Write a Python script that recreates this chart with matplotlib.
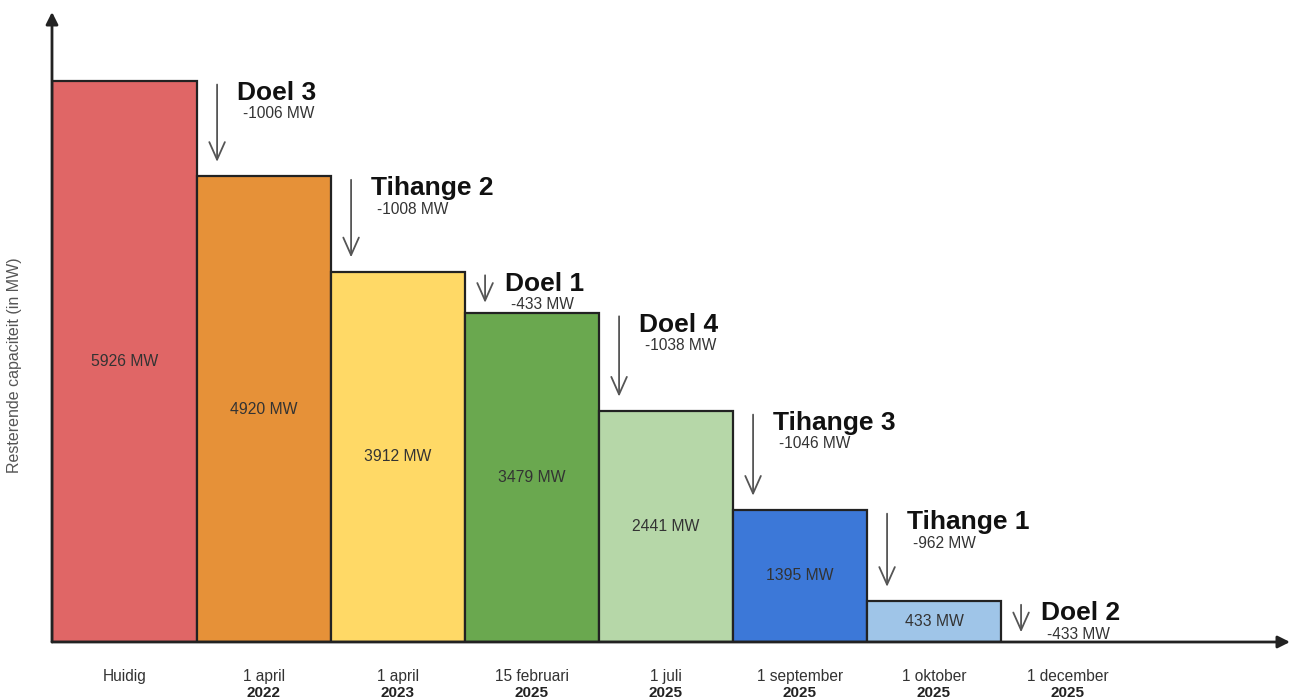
import numpy as np
import matplotlib
matplotlib.use("Agg")
import matplotlib.pyplot as plt

plt.rcParams["font.family"] = ["Liberation Sans", "DejaVu Sans"]

# data
dates = ["Huidig", "1 april", "1 april", "15 februari", "1 juli",
         "1 september", "1 oktober", "1 december"]
years = ["", "2022", "2023", "2025", "2025", "2025", "2025", "2025"]
capacity = [5926, 4920, 3912, 3479, 2441, 1395, 433, 0]
reactors = ["Doel 3", "Tihange 2", "Doel 1", "Doel 4", "Tihange 3", "Tihange 1", "Doel 2"]
colors = ["#e06666", "#e69138", "#ffd966", "#6aa84f", "#b6d7a8", "#3c78d8", "#9fc5e8", "#ffffff"]

n = len(capacity)
x_min = -0.082
x_max = 9.157
y_max = 6652

fig = plt.figure(figsize=(12.99, 7), dpi=100)
ax = fig.add_axes([52/1299, 58/700, 1238/1299, 630/700])
ax.set_xlim(x_min, x_max)
ax.set_ylim(0, y_max)
for s in ax.spines.values():
    s.set_visible(False)
ax.set_xticks([])
ax.set_yticks([])

left = np.arange(n, dtype=float)
width = np.ones(n)
left[0] = x_min
width[0] = 1 - x_min

for i in range(n):
    if capacity[i] <= 0:
        continue
    ax.bar(left[i], capacity[i], width=width[i], align='edge',
           color=colors[i], edgecolor='#222222', linewidth=1.6, zorder=2)
    ax.text(left[i] + width[i]/2, capacity[i]/2, "%d MW" % capacity[i],
            ha='center', va='center', fontsize=11.3, color='#333333', zorder=3)

# x labels
for i in range(n):
    xc = left[i] + width[i]/2
    ax.annotate(dates[i], xy=(xc, 0), xytext=(0, -25), textcoords='offset points',
                ha='center', va='center', fontsize=11.2, color='#333333',
                annotation_clip=False)
    if years[i]:
        ax.annotate(years[i], xy=(xc, 0), xytext=(0, -37), textcoords='offset points',
                    ha='center', va='center', fontsize=11, fontweight='bold',
                    color='#222222', annotation_clip=False)

# reactor closures
drops = -np.diff(capacity)
for k, name in enumerate(reactors):
    prev = capacity[k]
    nxt = capacity[k + 1]
    xa = k + 1 + 0.15
    y0 = prev - 40
    y1 = min(nxt + 150, y0 - 290)
    ax.annotate('', xy=(xa, y1), xytext=(xa, y0),
                arrowprops=dict(arrowstyle='->,head_length=0.9,head_width=0.4',
                                color='#555555', lw=1.3, shrinkA=0, shrinkB=0,
                                mutation_scale=14), zorder=4)
    ax.text(k + 1 + 0.3, prev - 130, name, ha='left', va='center',
            fontsize=19, fontweight='bold', color='#111111', zorder=4)
    ax.text(k + 1 + 0.34, prev - 350, "-%d MW" % drops[k], ha='left', va='center',
            fontsize=11.2, color='#333333', zorder=4)

# axis arrows
ax.annotate('', xy=(1, 0), xytext=(0, 0), xycoords='axes fraction',
            arrowprops=dict(arrowstyle='-|>', color='#222222', lw=2,
                            shrinkA=0, shrinkB=0, mutation_scale=18), zorder=5)
ax.annotate('', xy=(0, 1), xytext=(0, 0), xycoords='axes fraction',
            arrowprops=dict(arrowstyle='-|>', color='#222222', lw=2,
                            shrinkA=0, shrinkB=0, mutation_scale=18), zorder=5)

fig.text(0.0115, 0.479, "Resterende capaciteit (in MW)", rotation=90,
         ha='center', va='center', fontsize=11.5, color='#555555')

fig.savefig("out.png", dpi=100)
